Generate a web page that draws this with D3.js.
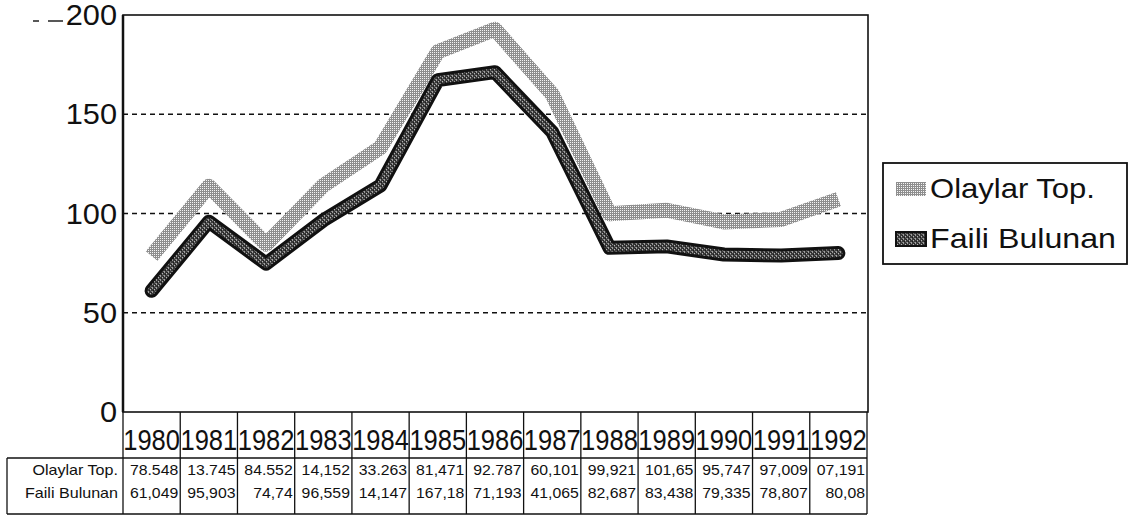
<!DOCTYPE html>
<html>
<head>
<meta charset="utf-8">
<script src="https://cdn.jsdelivr.net/npm/d3@7"></script>
<style>
  body { margin: 0; background: #fff; }
  svg text { font-family: "Liberation Sans", Arial, sans-serif; fill: #111; }
</style>
</head>
<body>
<div id="chart"></div>
<script>
const years = ["1980", "1981", "1982", "1983", "1984", "1985", "1986", "1987", "1988", "1989", "1990", "1991", "1992"];
const olaylar = [78.548, 113.745, 84.552, 114.152, 133.263, 181.471, 192.787, 160.101, 99.921, 101.65, 95.747, 97.009, 107.191];
const faili = [61.049, 95.903, 74.74, 96.559, 114.147, 167.18, 171.193, 141.065, 82.687, 83.438, 79.335, 78.807, 80.08];
// table cells as printed (clipped) in the source
const olaylarText = ["78.548", "13.745", "84.552", "14,152", "33.263", "81,471", "92.787", "60,101", "99,921", "101,65", "95,747", "97,009", "07,191"];
const failiText = ["61,049", "95,903", "74,74", "96,559", "14,147", "167,18", "71,193", "41,065", "82,687", "83,438", "79,335", "78,807", "80,08"];
const seriesNames = ["Olaylar Top.", "Faili Bulunan"];
const yTicks = [0, 50, 100, 150, 200];

var width = 1129, height = 522,
    plot = { left: 123, right: 868, top: 15, bottom: 412 },
    tableTop = 458, tableBottom = 514, labelLeft = 7;

const svg = d3.select("#chart").append("svg")
  .attr("width", width)
  .attr("height", height);

// textures for the two lines
const defs = svg.append("defs");
let p1 = defs.append("pattern")
  .attr("id", "patLight")
  .attr("patternUnits", "userSpaceOnUse")
  .attr("width", 2).attr("height", 2);
p1.append("rect").attr("width", 2).attr("height", 2).attr("fill", "#8e8e8e");
p1.append("rect").attr("width", 1).attr("height", 1).attr("fill", "#f4f4f4");

let p2 = defs.append("pattern")
  .attr("id", "patDark")
  .attr("patternUnits", "userSpaceOnUse")
  .attr("width", 4).attr("height", 4);
p2.append("rect").attr("width", 4).attr("height", 4).attr("fill", "#3a3a3a");
[[0, 0, "#9a9a9a"], [2, 1, "#b5b5b5"], [1, 2, "#1a1a1a"], [3, 3, "#7a7a7a"], [3, 0, "#222"], [0, 3, "#a0a0a0"], [2, 2, "#666"]]
  .forEach(d => p2.append("rect").attr("x", d[0]).attr("y", d[1]).attr("width", 1).attr("height", 1).attr("fill", d[2]));

let x = d3.scaleBand()
  .domain(years)
  .range([plot.left, plot.right - 1])
  .padding(0);

let y = d3.scaleLinear()
  .domain([0, 200])
  .range([plot.bottom, plot.top]);

// gridlines
svg.append("g")
  .selectAll("line")
  .data(yTicks.filter(d => d > 0 && d < 200))
  .enter()
  .append("line")
  .attr("x1", plot.left)
  .attr("x2", plot.right)
  .attr("y1", d => y(d))
  .attr("y2", d => y(d))
  .attr("stroke", "#111")
  .attr("stroke-width", 1.3)
  .attr("stroke-dasharray", "5,4");

// frame
svg.append("rect")
  .attr("x", plot.left)
  .attr("y", plot.top)
  .attr("width", plot.right - plot.left)
  .attr("height", plot.bottom - plot.top)
  .attr("fill", "none")
  .attr("stroke", "#111")
  .attr("stroke-width", 1.6);
svg.append("line")
  .attr("x1", plot.left).attr("x2", plot.left)
  .attr("y1", plot.top).attr("y2", plot.bottom)
  .attr("stroke", "#111").attr("stroke-width", 2.5);

// stray dashes left of 200
svg.append("line")
  .attr("x1", 33).attr("x2", 63)
  .attr("y1", y(200) + 6).attr("y2", y(200) + 6)
  .attr("stroke", "#222").attr("stroke-width", 1.3)
  .attr("stroke-dasharray", "6,9,15");

// y axis labels
svg.append("g")
  .selectAll("text")
  .data(yTicks)
  .enter()
  .append("text")
  .attr("transform", d => `translate(${plot.left - 6},${y(d) + 10}) scale(1.06,1)`)
  .style("text-anchor", "end")
  .style("font-size", "29px")
  .text(d => d);

let line = d3.line()
  .x((d, i) => x(years[i]) + x.bandwidth() / 2)
  .y(d => y(d));

svg.append("path")
  .datum(olaylar)
  .attr("d", line)
  .attr("fill", "none")
  .attr("stroke", "url(#patLight)")
  .attr("stroke-width", 15)
  .attr("stroke-linejoin", "round");

svg.append("path")
  .datum(faili)
  .attr("d", line)
  .attr("fill", "none")
  .attr("stroke", "#111")
  .attr("stroke-width", 14)
  .attr("stroke-linejoin", "round")
  .attr("stroke-linecap", "round");

svg.append("path")
  .datum(faili)
  .attr("d", line)
  .attr("fill", "none")
  .attr("stroke", "url(#patDark)")
  .attr("stroke-width", 8)
  .attr("stroke-linejoin", "round")
  .attr("stroke-linecap", "round");

// category columns + data table
let table = svg.append("g");

table.selectAll("line.col")
  .data(years.concat(["end"]))
  .enter()
  .append("line")
  .attr("class", "col")
  .attr("x1", (d, i) => plot.left + i * x.step())
  .attr("x2", (d, i) => plot.left + i * x.step())
  .attr("y1", plot.bottom)
  .attr("y2", tableBottom)
  .attr("stroke", "#111")
  .attr("stroke-width", 1.3);

table.append("line")
  .attr("x1", labelLeft).attr("x2", plot.right - 1)
  .attr("y1", tableTop).attr("y2", tableTop)
  .attr("stroke", "#111").attr("stroke-width", 1.3);
table.append("line")
  .attr("x1", labelLeft).attr("x2", plot.right - 1)
  .attr("y1", tableBottom).attr("y2", tableBottom)
  .attr("stroke", "#111").attr("stroke-width", 1.3);
table.append("line")
  .attr("x1", labelLeft).attr("x2", labelLeft)
  .attr("y1", tableTop).attr("y2", tableBottom)
  .attr("stroke", "#111").attr("stroke-width", 1.3);

table.selectAll("text.year")
  .data(years)
  .enter()
  .append("text")
  .attr("class", "year")
  .attr("transform", d => `translate(${x(d) + x.bandwidth() / 2},${plot.bottom + 38}) scale(0.88,1)`)
  .style("text-anchor", "middle")
  .style("font-size", "29px")
  .text(d => d);

const rowY = [tableTop + 17, tableTop + 40];
[olaylarText, failiText].forEach((row, r) => {
  table.append("text")
    .attr("transform", `translate(${plot.left - 5},${rowY[r]}) scale(1.15,1)`)
    .style("text-anchor", "end")
    .style("font-size", "14px")
    .text(seriesNames[r]);
  table.selectAll("text.v" + r)
    .data(row)
    .enter()
    .append("text")
    .attr("class", "v" + r)
    .attr("transform", (d, i) => `translate(${x(years[i]) + x.bandwidth() - 2},${rowY[r]}) scale(1.13,1)`)
    .style("text-anchor", "end")
    .style("font-size", "14px")
    .text(d => d);
});

// legend
let legend = svg.append("g").attr("transform", "translate(883,163)");
legend.append("rect")
  .attr("width", 244).attr("height", 101)
  .attr("fill", "#fff")
  .attr("stroke", "#111")
  .attr("stroke-width", 1.8);
let swatch = ["url(#patLight)", "url(#patDark)"];
let legendLen = [165, 186];
seriesNames.forEach((name, i) => {
  legend.append("rect")
    .attr("x", 13).attr("y", 19 + i * 50)
    .attr("width", 30).attr("height", 14)
    .attr("fill", swatch[i])
    .attr("stroke", i == 1 ? "#111" : "none")
    .attr("stroke-width", 2);
  legend.append("text")
    .attr("x", 47).attr("y", 35 + i * 50)
    .attr("textLength", legendLen[i])
    .attr("lengthAdjust", "spacingAndGlyphs")
    .style("font-size", "28px")
    .text(name);
});
</script>
</body>
</html>
